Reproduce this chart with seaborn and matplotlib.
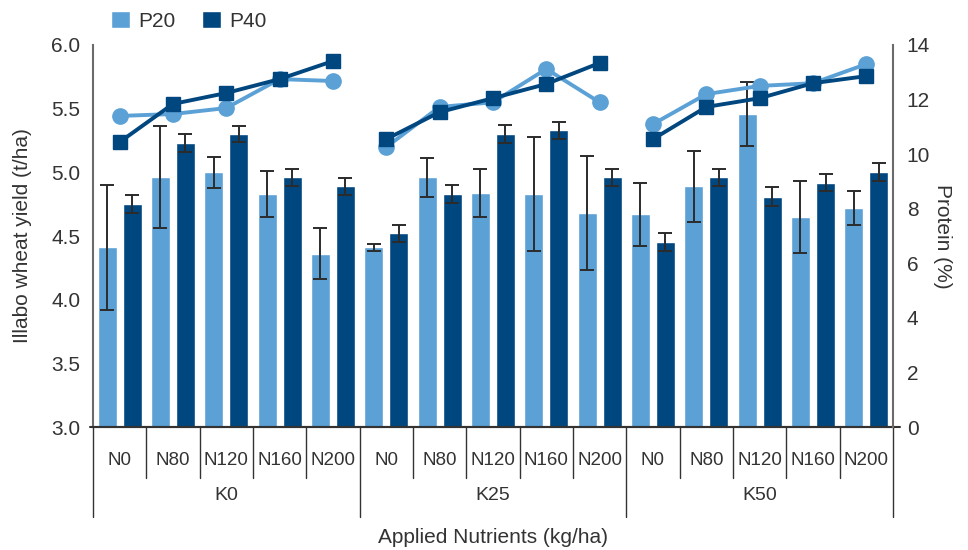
import numpy as np
import pandas as pd
import matplotlib
matplotlib.use('Agg')
import matplotlib.pyplot as plt
import matplotlib.transforms as mtransforms
import seaborn as sns

# Category levels
k_levels = ['K0', 'K25', 'K50']
n_levels = ['N0', 'N80', 'N120', 'N160', 'N200']

# Grain yield (t/ha), K0..K50 x N0..N200
yield_p20 = [4.41, 4.96, 5.00, 4.83, 4.36,
             4.41, 4.96, 4.84, 4.83, 4.68,
             4.67, 4.89, 5.46, 4.65, 4.72]
yield_p40 = [4.75, 5.23, 5.30, 4.96, 4.89,
             4.52, 4.83, 5.30, 5.33, 4.96,
             4.45, 4.96, 4.81, 4.92, 5.00]

# Error bar half-lengths (t/ha)
err_p20 = [0.49, 0.40, 0.12, 0.18, 0.20,
           0.03, 0.15, 0.19, 0.45, 0.45,
           0.25, 0.28, 0.25, 0.28, 0.13]
err_p40 = [0.07, 0.07, 0.065, 0.07, 0.065,
           0.07, 0.07, 0.07, 0.065, 0.07,
           0.07, 0.065, 0.075, 0.065, 0.07]

# Grain protein (%)
protein_p20 = [11.40, 11.47, 11.69, 12.75, 12.68,
               10.26, 11.73, 11.90, 13.12, 11.90,
               11.10, 12.20, 12.50, 12.60, 13.30]
protein_p40 = [10.44, 11.84, 12.24, 12.75, 13.41,
               10.55, 11.54, 12.05, 12.57, 13.34,
               10.55, 11.73, 12.05, 12.60, 12.86]

light = '#5BA1D6'
dark = '#00467F'
text_col = '#333333'

sns.set_style('white')
plt.rcParams['font.family'] = ['Liberation Sans', 'DejaVu Sans']

# Long-format table for seaborn
cats = [f'{k}-{n}' for k in k_levels for n in n_levels]
df = pd.DataFrame({
    'cat': cats * 2,
    'P': ['P20'] * len(cats) + ['P40'] * len(cats),
    'yield': yield_p20 + yield_p40,
})

fig = plt.figure(figsize=(9.68, 5.5), dpi=100)
ax = fig.add_axes([0.096, 0.2236, 0.8265, 0.6946])

sns.barplot(data=df, x='cat', y='yield', hue='P', order=cats,
            palette={'P20': light, 'P40': dark}, width=0.94, gap=0.24,
            errorbar=None, ax=ax, saturation=1)

# Error bars at the bar centres seaborn placed
for cont, errs in zip(ax.containers, [err_p20, err_p40]):
    xs = [p.get_x() + p.get_width() / 2 for p in cont.patches]
    hs = [p.get_height() for p in cont.patches]
    ax.errorbar(xs, hs, yerr=errs, fmt='none', ecolor='#2b2b2b',
                elinewidth=1.4, capsize=5, capthick=1.4, zorder=3)

ax.set_ylim(3.0, 6.0)
ax.set_yticks(np.arange(3.0, 6.01, 0.5))
ax.set_yticklabels([f'{v:.1f}' for v in np.arange(3.0, 6.01, 0.5)])
ax.set_xlim(-0.5, len(cats) - 0.5)
ax.set_xticks(range(len(cats)))
ax.set_xticklabels(n_levels * len(k_levels))
ax.tick_params(axis='x', length=0, pad=18, labelsize=13.5, colors=text_col)
ax.tick_params(axis='y', length=0, pad=9, labelsize=15, colors=text_col)
ax.set_xlabel('')
ax.set_ylabel('Illabo wheat yield (t/ha)', fontsize=15, color=text_col, labelpad=14)

ax.spines['top'].set_visible(False)
ax.spines['left'].set_color('#6b6b6b')
ax.spines['left'].set_linewidth(1.5)
ax.spines['right'].set_visible(False)
ax.spines['bottom'].set_color('#333333')
ax.spines['bottom'].set_linewidth(1.5)

# Protein on secondary axis
ax2 = ax.twinx()
for g in range(len(k_levels)):
    idx = np.arange(g * 5, g * 5 + 5)
    ax2.plot(idx, np.array(protein_p20)[idx], color=light, lw=2.8,
             marker='o', ms=11, zorder=4)
    ax2.plot(idx, np.array(protein_p40)[idx], color=dark, lw=2.8,
             marker='s', ms=10, zorder=5)
ax2.set_ylim(0, 14)
ax2.set_yticks(range(0, 15, 2))
ax2.tick_params(axis='y', length=0, pad=10, labelsize=15, colors=text_col)
ax2.set_ylabel('Protein (%)', fontsize=15, color=text_col, rotation=270, labelpad=16)
for s in ['top', 'left', 'bottom']:
    ax2.spines[s].set_visible(False)
ax2.spines['right'].set_color('#6b6b6b')
ax2.spines['right'].set_linewidth(1.5)

# Bottom line slightly extended past both axes
ax.plot([-0.004, 1.009], [0, 0], transform=ax.transAxes, color='#333333',
        lw=1.5, clip_on=False)

# Category separators and group labels below the axis
trans = mtransforms.blended_transform_factory(ax.transData, ax.transAxes)
for i in range(len(cats) + 1):
    x = i - 0.5
    low = -0.236 if i % 5 == 0 else -0.134
    ax.plot([x, x], [0, low], transform=trans, color='#333333', lw=1,
            clip_on=False)
for g, k in enumerate(k_levels):
    ax.text(g * 5 + 2, -0.18, k, transform=trans, ha='center', va='center',
            fontsize=14, color=text_col)
ax.text(0.5, -0.288, 'Applied Nutrients (kg/ha)', transform=ax.transAxes,
        ha='center', va='center', fontsize=15, color=text_col)

# Legend above the plot
handles, labels = ax.get_legend_handles_labels()
ax.legend(handles, labels, loc='lower left', bbox_to_anchor=(0.012, 1.015),
          ncol=2, frameon=False, handlelength=0.9, handleheight=0.9,
          handletextpad=0.4, columnspacing=1.3, fontsize=15,
          labelcolor=text_col, borderaxespad=0)

fig.savefig('out.png', dpi=100)
